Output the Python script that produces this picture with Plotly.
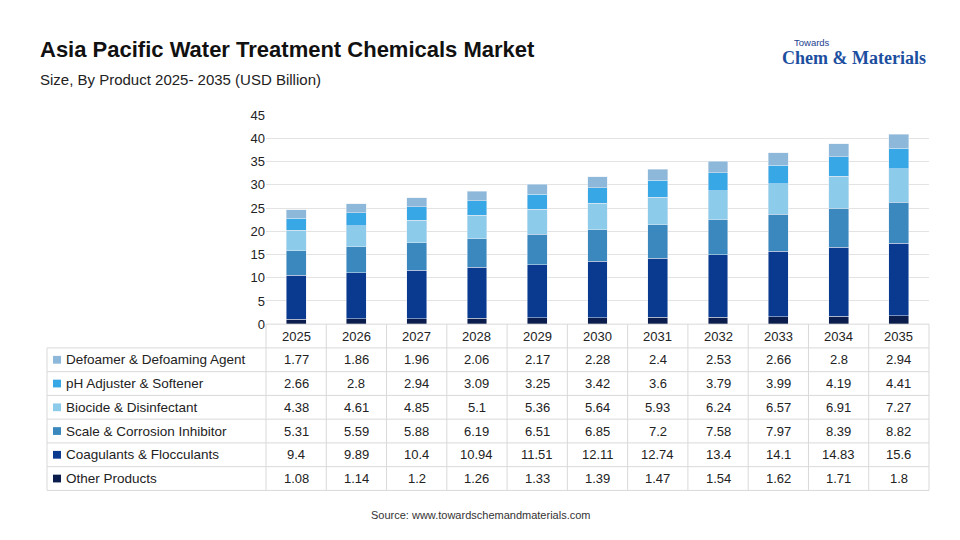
import plotly.graph_objects as go

years = ["2025", "2026", "2027", "2028", "2029", "2030", "2031", "2032", "2033", "2034", "2035"]
series_names = ["Other Products", "Coagulants & Flocculants", "Scale & Corrosion Inhibitor",
                "Biocide & Disinfectant", "pH Adjuster & Softener", "Defoamer & Defoaming Agent"]
other = [1.08, 1.14, 1.2, 1.26, 1.33, 1.39, 1.47, 1.54, 1.62, 1.71, 1.8]
coagulants = [9.4, 9.89, 10.4, 10.94, 11.51, 12.11, 12.74, 13.4, 14.1, 14.83, 15.6]
scale = [5.31, 5.59, 5.88, 6.19, 6.51, 6.85, 7.2, 7.58, 7.97, 8.39, 8.82]
biocide = [4.38, 4.61, 4.85, 5.1, 5.36, 5.64, 5.93, 6.24, 6.57, 6.91, 7.27]
ph = [2.66, 2.8, 2.94, 3.09, 3.25, 3.42, 3.6, 3.79, 3.99, 4.19, 4.41]
defoamer = [1.77, 1.86, 1.96, 2.06, 2.17, 2.28, 2.4, 2.53, 2.66, 2.8, 2.94]
values = [other, coagulants, scale, biocide, ph, defoamer]
colors = ["#0b1d4d", "#0a3a8f", "#3a88bd", "#8ccbea", "#38a7e6", "#8db8da"]

OFF = 8  # page body margin in the browser
W, H = 960, 540
fx = lambda p: (p - OFF) / W
fy = lambda p: 1 - (p - OFF) / H
x0, xl, x1 = 47, 266, 929
y_top, y_zero, y_tab = 111, 326, 497
row_h = (y_tab - y_zero) / 7
col_w = (x1 - xl) / len(years)
FONT = "Liberation Sans"
LINE = "#d9d9d9"

fig = go.Figure()
for name, vals, c in zip(series_names, values, colors):
    fig.add_trace(go.Bar(x=years, y=vals, name=name, marker_color=c, width=0.33,
                         showlegend=False))

shapes, annotations = [], []
def hline(y, xa, xb):
    shapes.append(dict(type="line", xref="paper", yref="paper", x0=fx(xa), x1=fx(xb),
                       y0=fy(y), y1=fy(y), line=dict(color=LINE, width=1)))
def vline(x, ya, yb):
    shapes.append(dict(type="line", xref="paper", yref="paper", x0=fx(x), x1=fx(x),
                       y0=fy(ya), y1=fy(yb), line=dict(color=LINE, width=1)))

# grid of the table
hline(y_zero, xl, x1)
for r in range(1, 8):
    hline(y_zero + r * row_h, x0, x1)
for k in range(len(years) + 1):
    vline(xl + k * col_w, y_zero, y_tab)
vline(x0, y_zero + row_h, y_tab)

def txt(s, x, y, anchor="center", size=13):
    annotations.append(dict(text=s, x=fx(x), y=fy(y), xref="paper", yref="paper",
                            xanchor=anchor, yanchor="middle", showarrow=False,
                            font=dict(size=size, color="#222", family=FONT)))

for k, yr in enumerate(years):
    txt(yr, xl + (k + 0.5) * col_w, y_zero + 0.5 * row_h)
rows = list(reversed(range(len(series_names))))
for r, i in enumerate(rows):
    yc = y_zero + row_h * (r + 1.5)
    shapes.append(dict(type="rect", xref="paper", yref="paper",
                       x0=fx(53), x1=fx(61), y0=fy(yc + 4), y1=fy(yc - 4),
                       fillcolor=colors[i], line_width=0))
    txt(series_names[i], 64, yc, anchor="left", size=13.5)
    for k in range(len(years)):
        txt(str(values[i][k]), xl + (k + 0.5) * col_w, yc)

annotations += [
    dict(text="<b>Asia Pacific Water Treatment Chemicals Market</b>", x=fx(38), y=fy(44),
         xref="paper", yref="paper", xanchor="left", yanchor="middle", showarrow=False,
         font=dict(size=22, color="#111", family=FONT)),
    dict(text="Size, By Product 2025- 2035 (USD Billion)", x=fx(38), y=fy(74),
         xref="paper", yref="paper", xanchor="left", yanchor="middle", showarrow=False,
         font=dict(size=15, color="#222", family=FONT)),
    dict(text="Source: www.towardschemandmaterials.com", x=fx(480), y=fy(522),
         xref="paper", yref="paper", xanchor="center", yanchor="middle", showarrow=False,
         font=dict(size=11, color="#333", family=FONT)),
    dict(text="Towards", x=fx(792), y=fy(36), xref="paper", yref="paper",
         xanchor="left", yanchor="middle", showarrow=False,
         font=dict(size=9.5, color="#1d3f8f", family=FONT)),
    dict(text="<b>Chem & Materials</b>", x=fx(928), y=fy(52), xref="paper", yref="paper",
         xanchor="right", yanchor="middle", showarrow=False,
         font=dict(size=18, color="#1d4fa0", family="Liberation Serif")),
]

fig.update_layout(
    width=W, height=H, margin=dict(l=0, r=0, t=0, b=0),
    plot_bgcolor="white", paper_bgcolor="white", barmode="stack",
    font=dict(family=FONT, color="#222"),
    xaxis=dict(domain=[fx(xl), fx(x1)], showticklabels=False, ticks=""),
    yaxis=dict(domain=[fy(y_zero), fy(y_top)], range=[0, 45], dtick=5,
               gridcolor="#e3e3e3", tickfont=dict(size=13), ticks="",
               zeroline=False),
    shapes=shapes, annotations=annotations,
)

fig.write_html("out.html")
